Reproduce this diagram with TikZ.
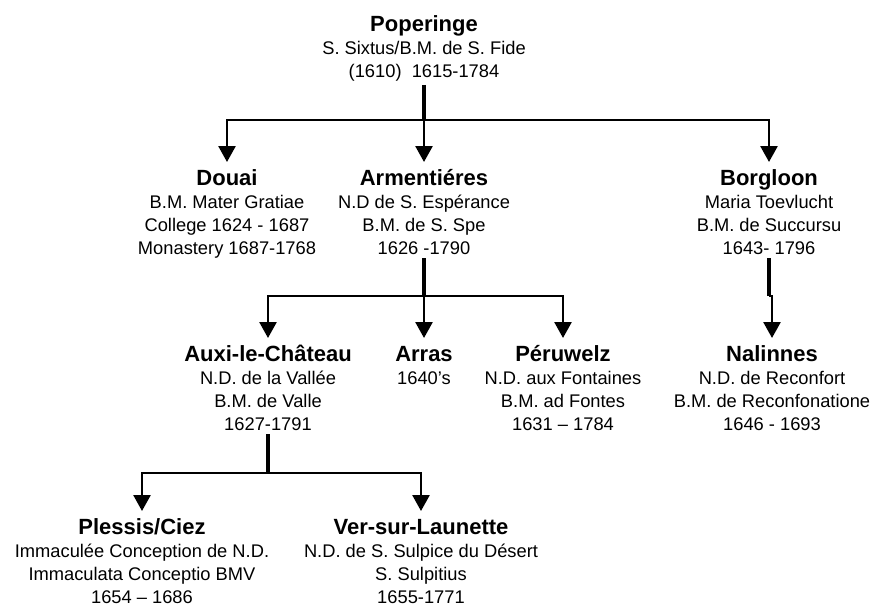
\documentclass[tikz,border=0pt]{standalone}
\usepackage{fontspec}
\setmainfont{Liberation Sans}
\usetikzlibrary{arrows.meta}
\newcommand{\house}[1]{\raisebox{0pt}[16pt][0pt]{\fontsize{22}{23}\selectfont\bfseries #1}}
\begin{document}
\begin{tikzpicture}[x=1pt, y=-1pt]
				\tikzstyle{House} = [anchor=north, align=center, inner sep=0pt, outer sep=1pt, font=\fontsize{18.3}{23}\selectfont]
				\tikzstyle{Stem} = [line width=3.4pt, shorten <=3pt]
				\tikzstyle{Link} = [line width=2.6pt, -{Triangle[width=17pt,length=16pt]}, shorten >=6pt]
				\useasboundingbox (0,0) rectangle (874,606);
				\node (1) at (424,14) [House] {\house{Poperinge}\\ S. Sixtus/B.M. de S. Fide\\ (1610)\ \ 1615-1784};
				\node (2) at (227,168) [House] {\house{Douai}\\ B.M. Mater Gratiae\\ College 1624 - 1687\\ Monastery 1687-1768};
				\node (3) at (424,168) [House] {\house{Armentiéres}\\ N.D de S. Espérance\\ B.M. de S. Spe\\ 1626 -1790};
				\node (4) at (769,168) [House] {\house{Borgloon}\\ Maria Toevlucht\\ B.M. de Succursu\\ 1643- 1796};
				\node (5) at (268,344) [House] {\house{Auxi-le-Château}\\ N.D. de la Vallée\\ B.M. de Valle\\ 1627-1791};
				\node (6) at (424,344) [House] {\house{Arras}\\ 1640’s};
				\node (7) at (563,344) [House] {\house{Péruwelz}\\ N.D. aux Fontaines\\ B.M. ad Fontes\\ 1631 – 1784};
				\node (8) at (772,344) [House] {\house{Nalinnes}\\ N.D. de Reconfort\\ B.M. de Reconfonatione\\ 1646 - 1693};
				\node (9) at (142,517) [House] {\house{Plessis/Ciez}\\ Immaculée Conception de N.D.\\ Immaculata Conceptio BMV\\ 1654 – 1686};
				\node (10) at (421,517) [House] {\house{Ver-sur-Launette}\\ N.D. de S. Sulpice du Désert\\ S. Sulpitius\\ 1655-1771};
				% Poperinge
				\draw [Stem] (1.south) -- (1.south |- 0,120) coordinate (b1);
				\draw [Link] (b1) -| (2);
				\draw [Link] (b1) -- (3);
				\draw [Link] (b1) -| (4);
				% Armentieres
				\draw [Stem] (3.south) -- (3.south |- 0,296) coordinate (b3);
				\draw [Link] (b3) -| (5);
				\draw [Link] (b3) -- (6);
				\draw [Link] (b3) -| (7);
				% Borgloon
				\draw [Stem] (4.south) -- (4.south |- 0,296) coordinate (b4);
				\draw [Link] (b4) -| (8);
				% Auxi
				\draw [Stem] (5.south) -- (5.south |- 0,473) coordinate (b5);
				\draw [Link] (b5) -| (9);
				\draw [Link] (b5) -| (10);
			\end{tikzpicture}
\end{document}
